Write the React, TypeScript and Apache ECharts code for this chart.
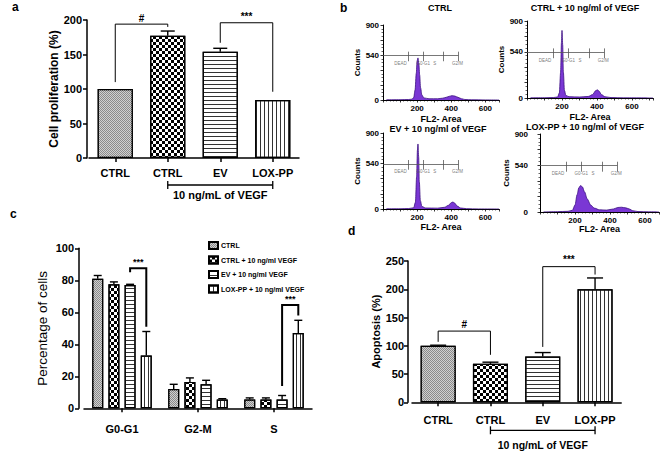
import React, { useEffect, useRef } from "react";
import * as echarts from "echarts";

// ---------- Panel a: cell proliferation ----------
const treatmentLabels = ["CTRL", "CTRL", "EV", "LOX-PP"];
const proliferationMean = [100, 177, 154, 84];
const proliferationErr = [0, 7, 5, 0];
const proliferationBrackets = [
  { fromCat: 0, toCat: 1, yFrom: 110, yTop: 194, yTo: 190, label: "#" },
  { fromCat: 2, toCat: 3, yFrom: 167, yTop: 196, yTo: 96, label: "***" },
];
const vegfGroupLabel = "10 ng/mL of VEGF";

// ---------- Panel b: flow cytometry histograms ----------
const histTitles = [
  "CTRL",
  "CTRL + 10 ng/ml of VEGF",
  "EV + 10 ng/ml of VEGF",
  "LOX-PP + 10 ng/ml of VEGF",
];
const histCtrl = [
  [20, 2], [100, 4], [150, 6], [170, 10], [180, 30], [188, 120], [195, 320], [200, 470],
  [205, 505], [210, 440], [215, 300], [220, 150], [228, 60], [240, 25], [270, 15], [320, 15],
  [350, 22], [370, 32], [390, 45], [405, 52], [420, 48], [440, 32], [460, 15], [480, 6],
  [520, 3], [600, 1], [680, 0],
];
const histCtrlVegf = [
  [20, 2], [100, 3], [150, 5], [175, 12], [185, 60], [192, 300], [197, 650], [200, 790],
  [204, 620], [208, 300], [214, 90], [222, 30], [240, 15], [300, 12], [350, 18], [375, 40],
  [392, 85], [402, 95], [412, 80], [425, 40], [445, 15], [480, 5], [550, 2], [720, 0],
];
const histEv = [
  [20, 2], [100, 3], [150, 5], [180, 15], [190, 80], [197, 380], [202, 700], [205, 770],
  [209, 620], [213, 320], [219, 100], [228, 30], [250, 12], [320, 10], [360, 20], [385, 45],
  [400, 75], [410, 83], [420, 70], [435, 35], [455, 12], [490, 4], [560, 1], [680, 0],
];
const histLox = [
  [20, 1], [100, 4], [160, 8], [185, 20], [200, 80], [212, 200], [222, 280], [232, 305],
  [242, 290], [255, 230], [270, 150], [290, 80], [310, 45], [340, 25], [380, 22], [420, 35],
  [445, 52], [465, 55], [490, 48], [510, 35], [530, 15], [560, 5], [620, 2], [680, 0],
];
const histograms = [histCtrl, histCtrlVegf, histEv, histLox];
const histXTickLabels = [200, 400, 600];
const histYTickLabels = [0, 540, 900];
const gateLevel = 535;
const gateTicks = [150, 236, 356, 442];
const gateNames = ["DEAD", "G0-G1", "S", "G2/M"];
const gateNameX = [103, 236, 303, 436];
const gateNameLevel = 440;

// ---------- Panel c: cell cycle ----------
const phaseLabels = ["G0-G1", "G2-M", "S"];
const cycleNames = [
  "CTRL",
  "CTRL + 10 ng/ml VEGF",
  "EV + 10 ng/ml VEGF",
  "LOX-PP + 10 ng/ml VEGF",
];
const cycleCtrl = [81, 12, 5.5];
const cycleCtrlErr = [2, 3, 1];
const cycleCtrlVegf = [77.5, 16.5, 5.5];
const cycleCtrlVegfErr = [1.5, 2.5, 1];
const cycleEv = [77, 15, 5.5];
const cycleEvErr = [0.5, 2.5, 2.5];
const cycleLox = [33, 5.5, 47];
const cycleLoxErr = [15, 0.5, 8];
const cycleBrackets = [
  { fromCat: 0, fromSlot: 2, toCat: 0, toSlot: 3, yFrom: 85, yTop: 87.5, yTo: 51, label: "***" },
  { fromCat: 2, fromSlot: 2, toCat: 2, toSlot: 3, yFrom: 14, yTop: 64.5, yTo: 58, label: "***" },
];

// ---------- Panel d: apoptosis ----------
const apoptosisMean = [100, 68, 81, 200];
const apoptosisErr = [1, 3, 7, 20];
const apoptosisBrackets = [
  { fromCat: 0, toCat: 1, yFrom: 107, yTop: 126, yTo: 84, label: "#" },
  { fromCat: 2, toCat: 3, yFrom: 98, yTop: 240, yTo: 226, label: "***" },
];

const FONT = "'Liberation Sans', Arial, Helvetica, sans-serif";

const patterns: any[] = [
  {
    color: "#8a8a8a",
    decal: { symbol: "rect", symbolSize: 1, color: "#d0d0d0", dashArrayX: [[1, 1], [0, 1, 1, 0]], dashArrayY: [1, 0] },
  },
  {
    color: "#ffffff",
    decal: { symbol: "rect", symbolSize: 1, color: "#000000", dashArrayX: [[3, 3], [0, 3, 3, 0]], dashArrayY: [3, 0] },
  },
  {
    color: "#ffffff",
    decal: { symbol: "rect", symbolSize: 1, color: "#333333", dashArrayX: [1, 0], dashArrayY: [1, 2.5] },
  },
  {
    color: "#ffffff",
    decal: { symbol: "rect", symbolSize: 1, color: "#333333", dashArrayX: [1, 2.5], dashArrayY: [1, 0] },
  },
];

function patternStyle(i: number) {
  return {
    color: patterns[i].color,
    decal: patterns[i].decal,
    borderColor: "#000",
    borderWidth: 1.2,
  };
}

function errorSeries(xi: number, yi: number, means: number[], errs: number[], offset: number, cap: number) {
  return {
    type: "custom",
    xAxisIndex: xi,
    yAxisIndex: yi,
    z: 5,
    silent: true,
    clip: false,
    data: means.map((m, i) => [i, m, errs[i]]),
    renderItem: (params: any, api: any) => {
      const c = api.value(0);
      const m = api.value(1);
      const e = api.value(2);
      if (!e) return { type: "group", children: [] };
      const a = api.coord([c, m]);
      const b = api.coord([c, m + e]);
      const x = a[0] + offset;
      return {
        type: "group",
        children: [
          { type: "line", shape: { x1: x, y1: a[1], x2: x, y2: b[1] }, style: { stroke: "#000", lineWidth: 1.4 } },
          { type: "line", shape: { x1: x - cap / 2, y1: b[1], x2: x + cap / 2, y2: b[1] }, style: { stroke: "#000", lineWidth: 1.4 } },
        ],
      };
    },
  };
}

function bracketSeries(xi: number, yi: number, items: any[], slotOffset: (s: number) => number, lw: number, fs: number, gap: number) {
  return {
    type: "custom",
    xAxisIndex: xi,
    yAxisIndex: yi,
    z: 6,
    silent: true,
    clip: false,
    data: items.map((b) => [b.fromCat, b.yFrom]),
    renderItem: (params: any, api: any) => {
      const b = items[params.dataIndex];
      const p1 = api.coord([b.fromCat, b.yFrom]);
      const pt = api.coord([b.fromCat, b.yTop]);
      const p2 = api.coord([b.toCat, b.yTo]);
      const x1 = p1[0] + slotOffset(b.fromSlot);
      const x2 = p2[0] + slotOffset(b.toSlot);
      return {
        type: "group",
        children: [
          {
            type: "polyline",
            shape: { points: [[x1, p1[1]], [x1, pt[1]], [x2, pt[1]], [x2, p2[1]]] },
            style: { stroke: "#000", lineWidth: lw, fill: "none" },
          },
          {
            type: "text",
            style: {
              text: b.label,
              x: (x1 + x2) / 2,
              y: pt[1] - gap,
              textAlign: "center",
              align: "center",
              textVerticalAlign: "bottom",
              verticalAlign: "bottom",
              fontSize: fs,
              fontWeight: "bold",
              fontFamily: FONT,
              fill: "#000",
            },
          },
        ],
      };
    },
  };
}

function underlineSeries(xi: number, yi: number, fromCat: number, toCat: number, dy: number, textDy: number, fs: number) {
  return {
    type: "custom",
    xAxisIndex: xi,
    yAxisIndex: yi,
    z: 6,
    silent: true,
    clip: false,
    data: [[fromCat, 0]],
    renderItem: (params: any, api: any) => {
      const a = api.coord([fromCat, 0]);
      const b = api.coord([toCat, 0]);
      const y = a[1] + dy;
      return {
        type: "group",
        children: [
          { type: "line", shape: { x1: a[0], y1: y, x2: b[0], y2: y }, style: { stroke: "#000", lineWidth: 1.3 } },
          { type: "line", shape: { x1: a[0], y1: y - 4, x2: a[0], y2: y + 4 }, style: { stroke: "#000", lineWidth: 1.3 } },
          { type: "line", shape: { x1: b[0], y1: y - 4, x2: b[0], y2: y + 4 }, style: { stroke: "#000", lineWidth: 1.3 } },
          {
            type: "text",
            style: {
              text: vegfGroupLabel,
              x: (a[0] + b[0]) / 2,
              y: a[1] + textDy,
              textAlign: "center",
              align: "center",
              textVerticalAlign: "middle",
              verticalAlign: "middle",
              fontSize: fs,
              fontWeight: "bold",
              fontFamily: FONT,
              fill: "#000",
            },
          },
        ],
      };
    },
  };
}

function barYAxis(gridIndex: number, max: number, interval: number, name: string, nameGap: number, nameSize: number, nameBold: boolean, offset: number, labelSize: number, margin: number) {
  return {
    type: "value",
    gridIndex,
    min: 0,
    max,
    interval,
    offset,
    axisLine: { show: true, lineStyle: { color: "#000", width: 1.5 } },
    axisTick: { show: true, length: 4, lineStyle: { color: "#000", width: 1.5 } },
    axisLabel: { color: "#000", fontWeight: "bold", fontSize: labelSize, margin, fontFamily: FONT },
    splitLine: { show: false },
    name,
    nameLocation: "middle",
    nameGap,
    nameTextStyle: { color: "#000", fontSize: nameSize, fontWeight: nameBold ? "bold" : "normal", fontFamily: FONT },
  };
}

function barXAxis(gridIndex: number, data: string[], margin: number, size: number) {
  return {
    type: "category",
    gridIndex,
    data,
    axisLine: { show: true, lineStyle: { color: "#000", width: 1.5 } },
    axisTick: { show: true, alignWithLabel: true, interval: 0, length: 4, lineStyle: { color: "#000", width: 1.5 } },
    axisLabel: { color: "#000", fontWeight: "bold", fontSize: size, margin, interval: 0, hideOverlap: false, fontFamily: FONT },
    splitLine: { show: false },
  };
}

const histGrids = [
  { left: 383, top: 25, width: 116, height: 75, max: 680, off: 0, nameGap: 14 },
  { left: 527, top: 21, width: 126, height: 77, max: 720, off: 0, nameGap: 14 },
  { left: 383, top: 133, width: 116, height: 76, max: 680, off: 0, nameGap: 13 },
  { left: 540, top: 134, width: 119, height: 78, max: 680, off: 8, nameGap: 10 },
];
const histTitlePos = [[440, 8], [585, 8], [438, 129], [585, 127]];

export default function App() {
  const ref = useRef<HTMLDivElement>(null);
  useEffect(() => {
    if (!ref.current) return;
    const chart = echarts.init(ref.current, null, { renderer: "svg" });

    const grids: any[] = [
      { left: 89, top: 20, width: 210, height: 138 }, // a
      { left: 84, top: 248.3, width: 228, height: 160 }, // c
      { left: 412, top: 261, width: 209.2, height: 141.3 }, // d
      ...histGrids.map((g) => ({ left: g.left, top: g.top, width: g.width, height: g.height })),
    ];

    const xAxes: any[] = [
      barXAxis(0, treatmentLabels, 9, 11),
      barXAxis(1, phaseLabels, 15, 11),
      barXAxis(2, treatmentLabels, 12, 11),
    ];
    const yAxes: any[] = [
      barYAxis(0, 200, 50, "Cell proliferation (%)", 26, 12, true, 2, 11, 5),
      barYAxis(1, 100, 20, "Percentage of cells", 30, 13.5, false, 5, 11, 5),
      barYAxis(2, 250, 50, "Apoptosis (%)", 25, 11, true, 4, 11, 4),
    ];

    histGrids.forEach((g, i) => {
      xAxes.push({
        type: "value",
        gridIndex: 3 + i,
        min: 0,
        max: g.max,
        interval: 100,
        axisLine: { show: true, lineStyle: { color: "#000", width: 1 } },
        axisTick: { show: true, length: 2.5, lineStyle: { color: "#000", width: 0.8 } },
        minorTick: { show: true, splitNumber: 5, length: 1.5, lineStyle: { color: "#000", width: 0.6 } },
        axisLabel: {
          color: "#000",
          fontSize: 8,
          fontWeight: "bold",
          margin: 4,
          fontFamily: FONT,
          showMaxLabel: false,
          formatter: (v: number) => (histXTickLabels.indexOf(v) >= 0 ? String(v) : ""),
        },
        splitLine: { show: false },
        minorSplitLine: { show: false },
        name: "FL2- Area",
        nameLocation: "middle",
        nameGap: g.nameGap,
        nameTextStyle: { color: "#000", fontSize: 9, fontWeight: "bold", fontFamily: FONT },
      });
      yAxes.push({
        type: "value",
        gridIndex: 3 + i,
        min: 0,
        max: 900,
        interval: 180,
        offset: g.off,
        axisLine: { show: true, lineStyle: { color: "#000", width: 1 } },
        axisTick: { show: true, length: 2.5, lineStyle: { color: "#000", width: 0.8 } },
        minorTick: { show: true, splitNumber: 4, length: 1.5, lineStyle: { color: "#000", width: 0.6 } },
        axisLabel: {
          color: "#000",
          fontSize: 8,
          fontWeight: "bold",
          margin: 4,
          fontFamily: FONT,
          formatter: (v: number) => (histYTickLabels.indexOf(v) >= 0 ? String(v) : ""),
        },
        splitLine: { show: false },
        minorSplitLine: { show: false },
        name: "Counts",
        nameLocation: "middle",
        nameGap: 17,
        nameTextStyle: { color: "#000", fontSize: 8, fontWeight: "bold", fontFamily: FONT },
      });
    });

    const series: any[] = [];

    // Panel a
    series.push({
      type: "bar",
      xAxisIndex: 0,
      yAxisIndex: 0,
      barWidth: "67%",
      z: 2,
      data: proliferationMean.map((v, i) => ({ value: v, itemStyle: patternStyle(i) })),
    });
    series.push(errorSeries(0, 0, proliferationMean, proliferationErr, 0, 14));
    series.push(bracketSeries(0, 0, proliferationBrackets, () => 0, 1, 10, 1));
    series.push(underlineSeries(0, 0, 1, 3, 27, 37, 11));

    // Panel c
    const cycleData = [cycleCtrl, cycleCtrlVegf, cycleEv, cycleLox];
    const cycleErrs = [cycleCtrlErr, cycleCtrlVegfErr, cycleEvErr, cycleLoxErr];
    const slotOffset = (s: number) => (s - 1.5) * 16.2;
    cycleData.forEach((d, i) => {
      series.push({
        type: "bar",
        name: cycleNames[i],
        xAxisIndex: 1,
        yAxisIndex: 1,
        barWidth: 11,
        barGap: "47%",
        z: 2,
        itemStyle: patternStyle(i),
        data: d,
      });
    });
    cycleData.forEach((d, i) => {
      series.push(errorSeries(1, 1, d, cycleErrs[i], slotOffset(i), 8));
    });
    series.push(bracketSeries(1, 1, cycleBrackets, slotOffset, 2, 9, 2));

    // Panel d
    series.push({
      type: "bar",
      xAxisIndex: 2,
      yAxisIndex: 2,
      barWidth: "67%",
      z: 2,
      data: apoptosisMean.map((v, i) => ({ value: v, itemStyle: patternStyle(i) })),
    });
    series.push(errorSeries(2, 2, apoptosisMean, apoptosisErr, 0, 16));
    series.push(bracketSeries(2, 2, apoptosisBrackets, () => 0, 1, 10, 2));
    series.push(underlineSeries(2, 2, 1, 3, 28, 43, 10.5));

    // Panel b
    histograms.forEach((h, i) => {
      series.push({
        type: "line",
        xAxisIndex: 3 + i,
        yAxisIndex: 3 + i,
        data: h,
        smooth: 0.3,
        smoothMonotone: "x",
        showSymbol: false,
        symbol: "none",
        z: 2,
        lineStyle: { color: "#3b0f80", width: 0.8 },
        areaStyle: { color: "#7a37d4", opacity: 1 },
        markLine: {
          silent: true,
          symbol: ["none", "none"],
          lineStyle: { color: "#555", width: 0.8, type: "solid" },
          label: { show: false },
          data: [
            [{ coord: [0, gateLevel] }, { coord: [gateTicks[gateTicks.length - 1], gateLevel] }],
            ...gateTicks.map((t) => [{ coord: [t, gateLevel - 70] }, { coord: [t, gateLevel + 45] }]),
          ],
        },
      });
      series.push({
        type: "scatter",
        xAxisIndex: 3 + i,
        yAxisIndex: 3 + i,
        symbolSize: 0,
        silent: true,
        z: 3,
        data: gateNames.map((n, k) => ({ value: [gateNameX[k], gateNameLevel], name: n })),
        label: { show: true, formatter: "{b}", position: "inside", fontSize: 4.5, color: "#555", fontFamily: FONT },
      });
    });

    const graphics: any[] = [
      { type: "text", x: 12, y: 1, style: { text: "a", fontSize: 12, fontWeight: "bold", fontFamily: FONT, fill: "#000" } },
      { type: "text", x: 340, y: 2, style: { text: "b", fontSize: 12, fontWeight: "bold", fontFamily: FONT, fill: "#000" } },
      { type: "text", x: 10, y: 208, style: { text: "c", fontSize: 12, fontWeight: "bold", fontFamily: FONT, fill: "#000" } },
      { type: "text", x: 348, y: 225, style: { text: "d", fontSize: 12, fontWeight: "bold", fontFamily: FONT, fill: "#000" } },
      ...histTitles.map((t, i) => ({
        type: "text",
        x: histTitlePos[i][0],
        y: histTitlePos[i][1],
        style: {
          text: t,
          fontSize: 9,
          fontWeight: "bold",
          fontFamily: FONT,
          fill: "#000",
          textAlign: "center",
          align: "center",
          textVerticalAlign: "middle",
          verticalAlign: "middle",
        },
      })),
    ];

    chart.setOption({
      animation: false,
      backgroundColor: "#fff",
      textStyle: { fontFamily: FONT },
      grid: grids,
      xAxis: xAxes,
      yAxis: yAxes,
      legend: {
        data: cycleNames,
        orient: "vertical",
        left: 203,
        top: 236,
        itemWidth: 9,
        itemHeight: 7,
        itemGap: 5.5,
        selectedMode: false,
        icon: "rect",
        textStyle: { fontSize: 7, fontWeight: "bold", color: "#000", fontFamily: FONT, padding: [0, 0, 0, -2] },
      },
      graphic: graphics,
      series,
    });
    return () => chart.dispose();
  }, []);

  return (
    <div
      ref={ref}
      style={{ position: "fixed", left: 0, top: 0, width: 660, height: 455, background: "#fff" }}
    />
  );
}
